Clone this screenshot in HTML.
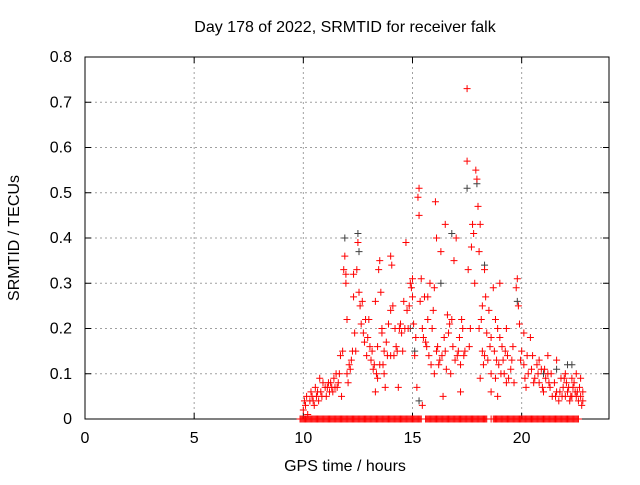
<!DOCTYPE html>
<html><head><meta charset="utf-8"><style>
html,body{margin:0;padding:0;background:#fff;}
svg text{font-family:"Liberation Sans",sans-serif;font-size:16px;fill:#000;}
</style></head><body>
<svg id="chart" width="640" height="480" xmlns="http://www.w3.org/2000/svg">
<rect width="640" height="480" fill="#fff"/>
<text x="345" y="32" text-anchor="middle">Day 178 of 2022, SRMTID for receiver falk</text>
<text x="345" y="471" text-anchor="middle">GPS time / hours</text>
<text transform="translate(19,238) rotate(-90)" text-anchor="middle">SRMTID / TECUs</text>
<g id="grid"></g><g id="axes"></g><g id="gray"></g><g id="red"></g>
</svg>
<script>
const xTicks=[0,5,10,15,20];
const yTicks=[0,0.1,0.2,0.3,0.4,0.5,0.6,0.7,0.8];
const yTickLabels=["0","0.1","0.2","0.3","0.4","0.5","0.6","0.7","0.8"];
const grayPts=[[12.5,0.41],[11.9,0.4],[17.5,0.51],[18.3,0.34],[15.3,0.04],[15.1,0.15],[19.8,0.26],[21.6,0.11],[22.1,0.12],[16.8,0.41],[14.9,0.2],[12.55,0.37],[17.95,0.52],[16.3,0.3],[21.0,0.1],[22.3,0.12]];
const redPts=[[10.0,0.02],[10.05,0.04],[10.1,0.03],[10.15,0.05],[10.2,0.01],[10.3,0.04],[10.35,0.06],[10.4,0.05],[10.5,0.03],[10.55,0.07],[10.6,0.05],[10.7,0.04],[10.75,0.09],[10.8,0.06],[10.9,0.08],[11.0,0.07],[11.05,0.05],[11.1,0.07],[11.2,0.06],[11.25,0.08],[11.3,0.07],[11.4,0.09],[11.5,0.1],[11.55,0.07],[11.6,0.08],[11.7,0.14],[11.75,0.05],[11.8,0.15],[11.85,0.33],[11.9,0.36],[11.95,0.3],[12.0,0.1],[12.0,0.22],[12.05,0.08],[12.1,0.12],[12.2,0.13],[12.3,0.27],[12.35,0.19],[12.4,0.15],[12.45,0.33],[12.5,0.39],[12.55,0.28],[12.6,0.25],[12.7,0.26],[12.8,0.17],[12.85,0.22],[12.9,0.14],[13.0,0.22],[13.05,0.16],[13.1,0.13],[13.2,0.11],[13.3,0.06],[13.35,0.1],[13.4,0.16],[13.45,0.33],[13.5,0.35],[13.55,0.28],[13.6,0.19],[13.65,0.12],[13.7,0.15],[13.75,0.07],[13.8,0.17],[13.9,0.21],[14.0,0.36],[14.05,0.34],[14.1,0.25],[14.15,0.14],[14.3,0.15],[14.35,0.07],[14.4,0.2],[14.5,0.19],[14.6,0.26],[14.7,0.39],[14.75,0.24],[14.8,0.2],[14.9,0.3],[14.95,0.29],[15.0,0.27],[15.05,0.21],[15.1,0.14],[15.2,0.07],[15.3,0.51],[15.25,0.49],[15.3,0.45],[15.35,0.26],[15.4,0.31],[15.5,0.18],[15.55,0.27],[15.6,0.17],[15.7,0.22],[15.75,0.14],[15.8,0.3],[15.9,0.2],[16.0,0.29],[16.05,0.48],[16.1,0.4],[16.15,0.16],[16.2,0.12],[16.3,0.37],[16.35,0.14],[16.5,0.15],[16.6,0.23],[16.7,0.21],[16.75,0.1],[16.8,0.22],[16.9,0.35],[17.0,0.4],[17.05,0.14],[17.1,0.15],[17.2,0.06],[17.3,0.2],[17.35,0.14],[17.5,0.73],[17.5,0.57],[17.55,0.33],[17.6,0.16],[17.7,0.38],[17.75,0.43],[17.8,0.41],[17.9,0.55],[17.95,0.53],[18.0,0.47],[18.05,0.37],[18.1,0.43],[18.15,0.22],[18.2,0.15],[18.25,0.12],[18.3,0.33],[18.35,0.27],[18.4,0.19],[18.5,0.24],[18.55,0.16],[18.6,0.1],[18.7,0.29],[18.8,0.22],[18.85,0.13],[18.9,0.05],[19.0,0.18],[19.1,0.16],[19.2,0.1],[19.3,0.2],[19.35,0.14],[19.5,0.11],[19.6,0.16],[19.75,0.29],[19.8,0.31],[19.85,0.25],[19.9,0.21],[20.0,0.15],[20.1,0.12],[20.2,0.07],[20.3,0.1],[20.4,0.18],[20.5,0.14],[20.6,0.09],[20.7,0.12],[20.8,0.08],[20.9,0.11],[21.0,0.06],[21.1,0.09],[21.2,0.1],[21.3,0.07],[21.4,0.05],[21.5,0.08],[21.6,0.06],[21.7,0.04],[21.8,0.09],[21.9,0.07],[22.0,0.05],[22.1,0.06],[22.2,0.04],[22.3,0.09],[22.35,0.07],[22.4,0.08],[22.5,0.05],[22.55,0.06],[22.6,0.04],[22.7,0.05],[22.75,0.03],[22.8,0.06],[22.5,0.1],[22.3,0.05],[21.2,0.14],[20.8,0.13],[19.3,0.08],[18.6,0.06],[16.4,0.05],[15.45,0.03],[14.2,0.2],[13.3,0.26],[12.3,0.32],[11.95,0.32],[16.5,0.43],[14.0,0.24],[13.6,0.2],[15.7,0.27],[16.0,0.1],[17.2,0.12],[19.0,0.3],[18.1,0.09],[18.9,0.2],[20.1,0.19],[21.6,0.13],[22.0,0.1],
[10.45,0.04],[10.65,0.06],[10.85,0.05],[11.15,0.08],[11.35,0.06],[11.45,0.07],[11.65,0.1],[12.15,0.11],[12.25,0.15],[12.65,0.21],[12.75,0.19],[12.95,0.18],[13.15,0.15],[13.25,0.12],[13.4,0.09],[13.5,0.12],[13.7,0.1],[13.85,0.14],[14.0,0.14],[14.25,0.16],[14.45,0.21],[14.55,0.15],[14.65,0.2],[14.85,0.25],[15.0,0.31],[15.15,0.18],[15.45,0.2],[15.65,0.16],[15.85,0.12],[15.95,0.24],[16.1,0.15],[16.25,0.13],[16.45,0.18],[16.55,0.11],[16.65,0.19],[16.85,0.16],[16.95,0.13],[17.15,0.18],[17.25,0.22],[17.4,0.15],[17.65,0.2],[17.85,0.3],[18.05,0.2],[18.2,0.25],[18.3,0.14],[18.45,0.13],[18.6,0.18],[18.75,0.15],[18.8,0.09],[18.95,0.12],[19.05,0.1],[19.15,0.13],[19.25,0.15],[19.4,0.09],[19.55,0.13],[19.65,0.08],[19.95,0.13],[20.15,0.09],[20.25,0.14],[20.45,0.11],[20.55,0.08],[20.75,0.1],[20.95,0.07],[21.05,0.11],[21.25,0.08],[21.35,0.1],[21.55,0.05],[21.75,0.06],[21.85,0.05],[21.95,0.09],[22.05,0.08],[22.15,0.07],[22.25,0.05],[22.45,0.06],[22.65,0.07],[22.7,0.09],[22.8,0.04]];
const zeroTimes=[9.85,9.9,9.95,10.0,10.05,10.1,10.15,10.2,10.25,10.3,10.35,10.4,10.45,10.5,10.55,10.6,10.65,10.7,10.75,10.8,10.85,10.9,10.95,11.0,11.05,11.1,11.15,11.2,11.25,11.3,11.35,11.4,11.45,11.5,11.55,11.6,11.65,11.7,11.75,11.8,11.85,11.9,11.95,12.0,12.05,12.1,12.15,12.2,12.25,12.3,12.35,12.4,12.45,12.5,12.55,12.6,12.65,12.7,12.75,12.8,12.85,12.9,12.95,13.0,13.05,13.1,13.15,13.2,13.25,13.3,13.35,13.4,13.45,13.5,13.55,13.6,13.65,13.7,13.75,13.8,13.85,13.9,13.95,14.0,14.05,14.1,14.15,14.2,14.25,14.3,14.35,14.4,14.45,14.5,14.55,14.6,14.65,14.7,14.75,14.8,14.85,14.9,14.95,15.0,15.05,15.1,15.15,15.2,15.25,15.3,15.35,15.4,15.6,15.65,15.7,15.75,15.8,15.85,15.9,15.95,16.0,16.05,16.1,16.15,16.2,16.25,16.3,16.35,16.4,16.45,16.5,16.55,16.6,16.65,16.7,16.75,16.8,16.85,16.9,16.95,17.0,17.05,17.1,17.15,17.2,17.25,17.3,17.35,17.4,17.45,17.5,17.55,17.6,17.65,17.7,17.75,17.8,17.85,17.9,17.95,18.0,18.05,18.1,18.15,18.2,18.25,18.3,18.35,18.4,18.6,18.7,18.75,18.8,18.85,18.9,18.95,19.0,19.05,19.1,19.15,19.2,19.25,19.3,19.35,19.4,19.45,19.5,19.55,19.6,19.65,19.7,19.75,19.8,19.85,19.9,19.95,20.0,20.05,20.1,20.15,20.2,20.25,20.3,20.35,20.4,20.45,20.5,20.55,20.6,20.65,20.7,20.75,20.8,20.85,20.9,20.95,21.0,21.05,21.1,21.15,21.2,21.25,21.3,21.35,21.4,21.45,21.5,21.55,21.6,21.65,21.7,21.75,21.8,21.85,21.9,21.95,22.0,22.05,22.1,22.15,22.2,22.25,22.3,22.35,22.4,22.45,22.5,22.55,22.6];
const NS="http://www.w3.org/2000/svg";
const L=85,R=609,T=57,B=419;
const xS=t=>L+(t/24)*(R-L);
const yS=v=>B-(v/0.8)*(B-T);
function mk(tag,attrs,parent){const e=document.createElementNS(NS,tag);for(const k in attrs)e.setAttribute(k,attrs[k]);parent.appendChild(e);return e;}
const grid=document.getElementById('grid'),axes=document.getElementById('axes');
yTicks.forEach((v,i)=>{
  const y=yS(v);
  if(i>0&&i<yTicks.length-1){const g=mk('line',{x1:L,x2:R,y1:y,y2:y,stroke:'#a0a0a0','stroke-dasharray':'2,3'},grid);
  
  }
  const t=mk('text',{x:L-13,y:y+5,'text-anchor':'end'},axes);t.textContent=yTickLabels[i];
  
  
  mk('line',{x1:L,x2:L+6,y1:y,y2:y,stroke:'#000'},axes);
  mk('line',{x1:R,x2:R-6,y1:y,y2:y,stroke:'#000'},axes);
});
xTicks.forEach(v=>{
  const x=xS(v);
  if(v>0){const g=mk('line',{x1:x,x2:x,y1:T,y2:B,stroke:'#a0a0a0','stroke-dasharray':'2,3'},grid);
  
  }
  const t=mk('text',{x:x,y:B+24,'text-anchor':'middle'},axes);t.textContent=String(v);
  
  
  mk('line',{x1:x,x2:x,y1:B,y2:B-6,stroke:'#000'},axes);
  mk('line',{x1:x,x2:x,y1:T,y2:T+6,stroke:'#000'},axes);
});
const fr=mk('rect',{x:L,y:T,width:R-L,height:B-T,fill:'none',stroke:'#000'},axes);


function plus(g,t,v,c,name){
  const x=xS(t),y=yS(v);
  const p=mk('path',{d:`M${x-3.5},${y}H${x+3.5}M${x},${y-3.5}V${y+3.5}`,stroke:c,'stroke-width':1,fill:'none'},g);
  
  
}
const gG=document.getElementById('gray'),gR=document.getElementById('red');
grayPts.forEach(p=>plus(gG,p[0],p[1],'#404040','gray-point'));
redPts.forEach(p=>plus(gR,p[0],p[1],'#ff0000','red-point'));
zeroTimes.forEach(t=>plus(gR,t,0,'#ff0000','zero-point'));
</script>
</body></html>
